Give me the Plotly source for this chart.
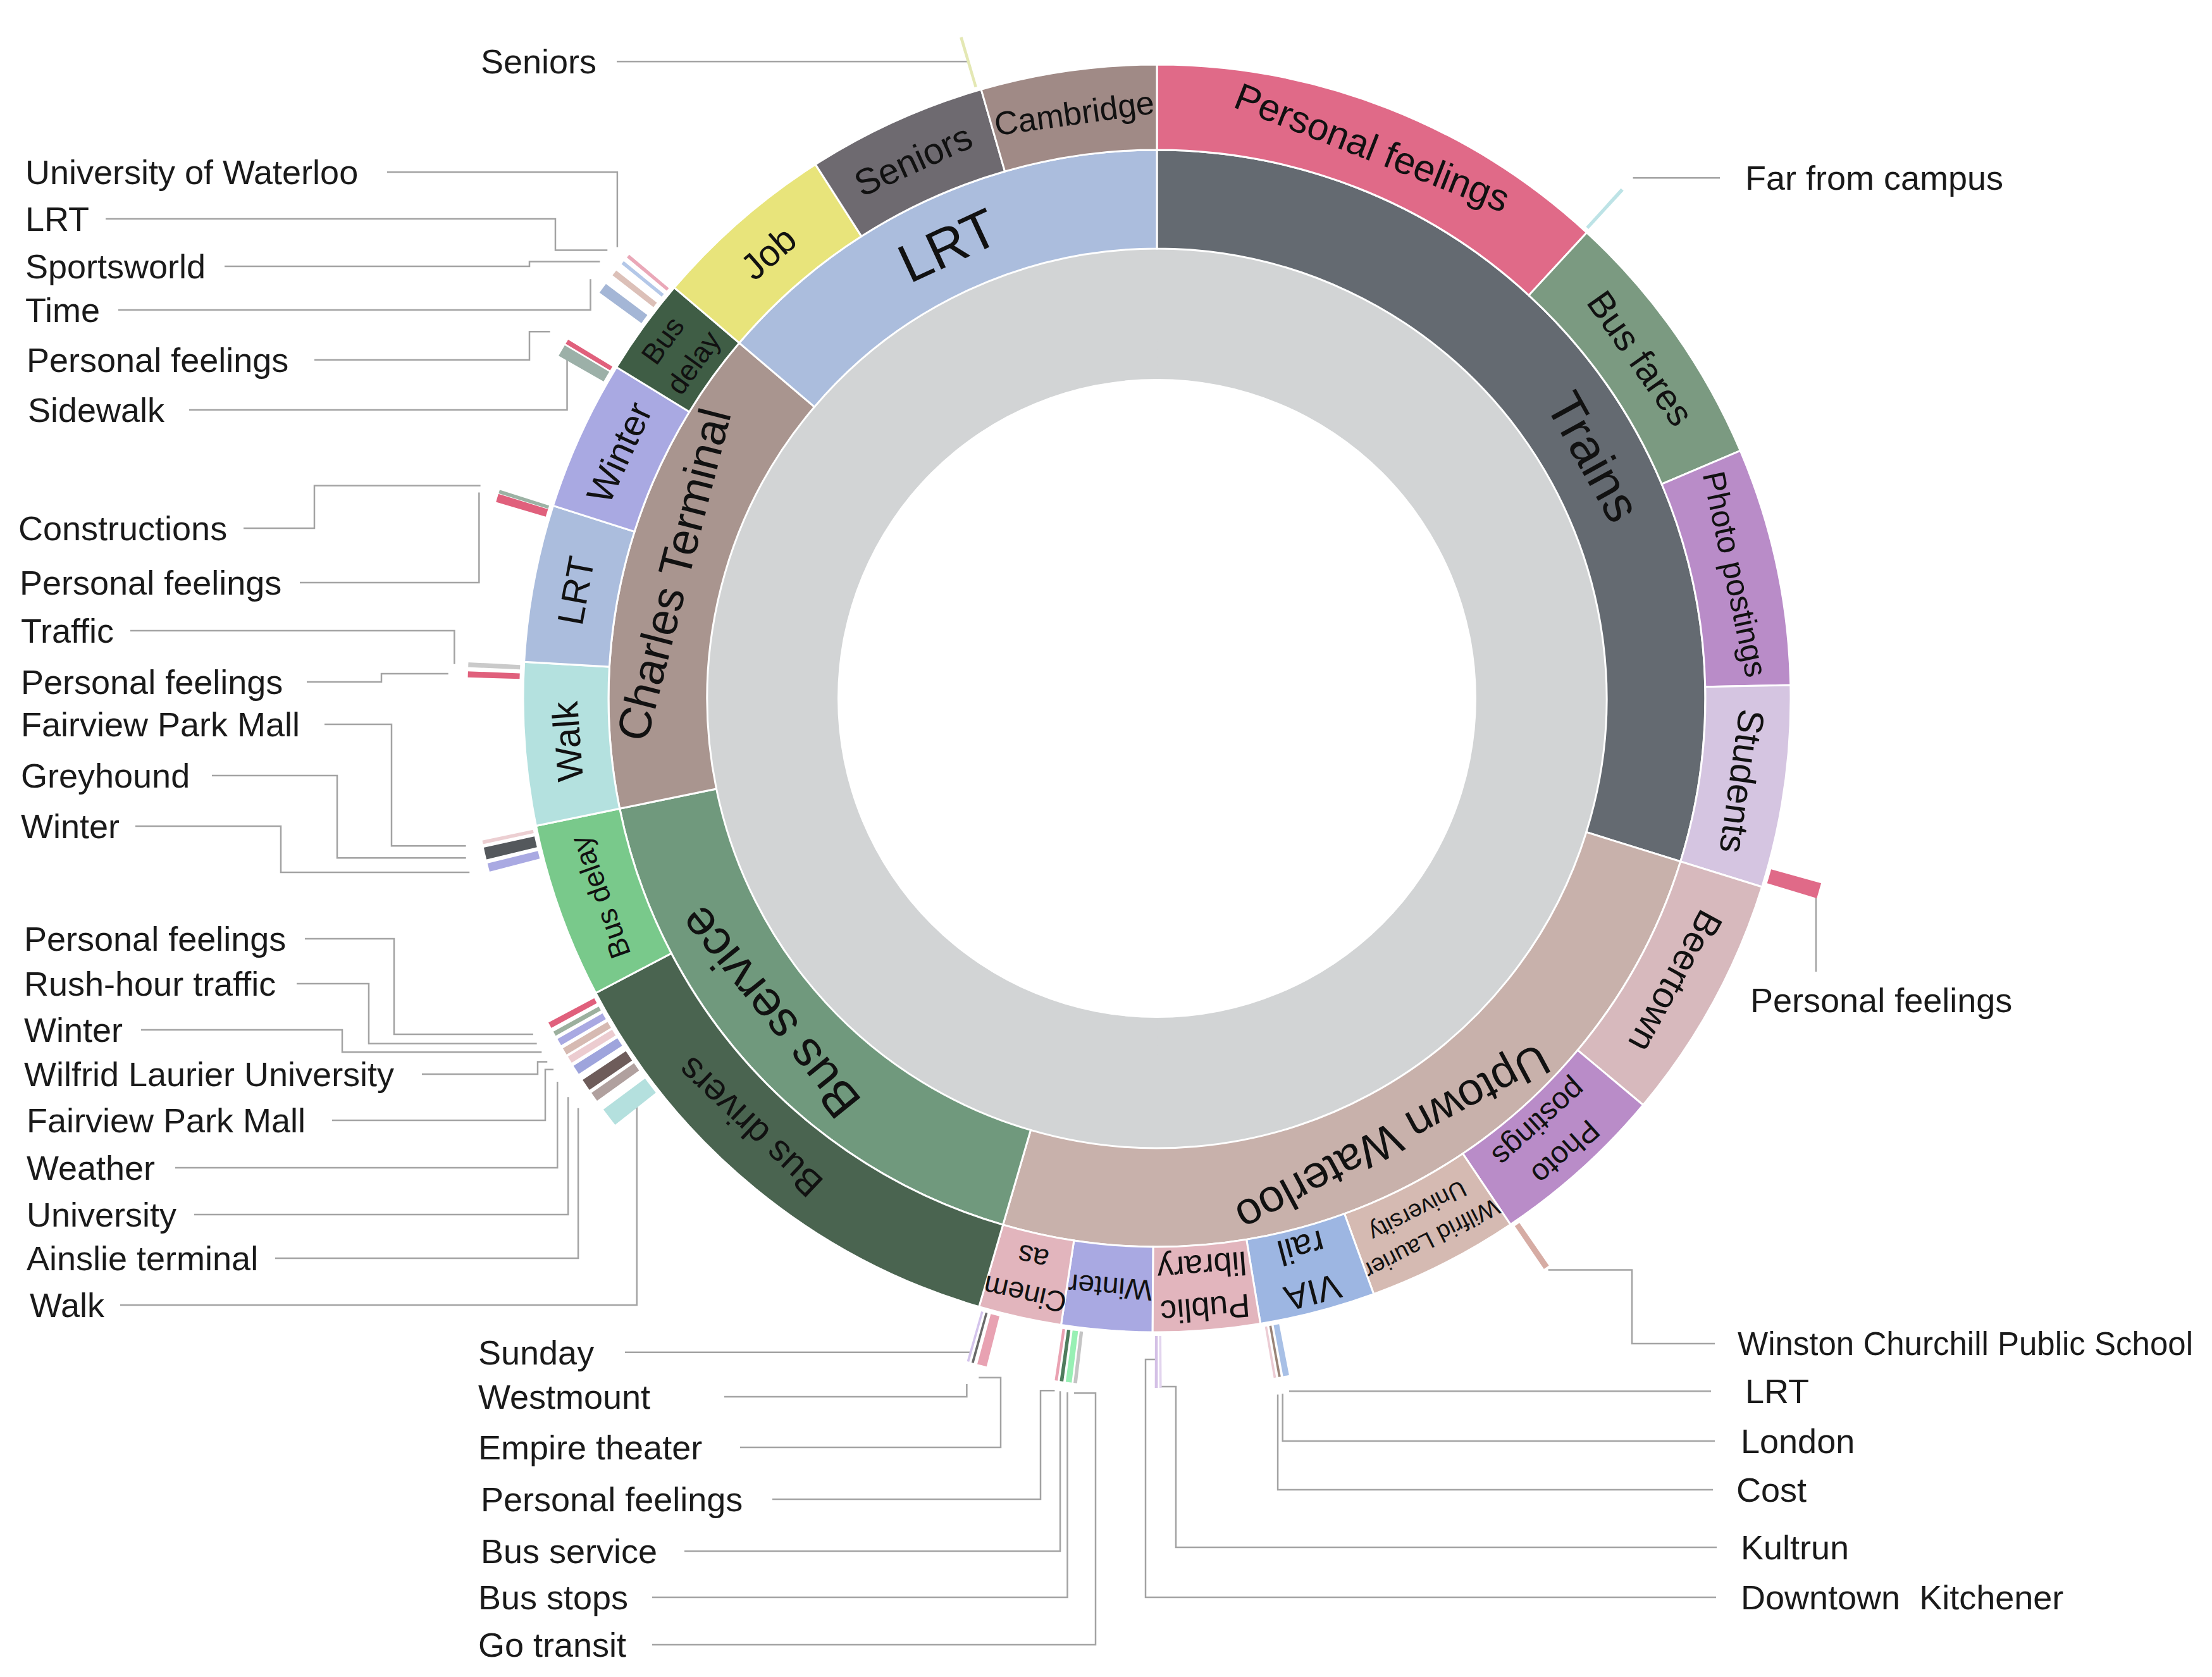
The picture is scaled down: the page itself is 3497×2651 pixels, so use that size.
import math
import plotly.graph_objects as go

# ---------------- data ----------------
# level 1 (middle ring)
l1_labels = ["Trains", "Uptown Waterloo", "Bus service", "Charles Terminal", "LRT"]
l1_colors = ["#646a71", "#c8b1ab", "#70997d", "#a9958f", "#abbddd"]

# level 2 (outer ring) : arc share in degrees
l2_parent = (["Trains"] * 4 + ["Uptown Waterloo"] * 7 + ["Bus service"] * 2
             + ["Charles Terminal"] * 4 + ["LRT"] * 3)
l2_labels = ["Personal feelings", "Bus fares", "Photo postings", "Students",
             "Beertown", "Photo postings", "Wilfrid Laurier University", "VIA rail",
             "Public library", "Winter", "Cinemas",
             "Bus drivers", "Bus delay",
             "Walk", "LRT", "Winter", "Bus delay",
             "Job", "Seniors", "Cambridge"]
l2_text = ["Personal feelings", "Bus fares", "Photo postings", "Students",
           "Beertown", "Photo<br>postings", "Wilfrid Laurier<br>University", "VIA<br>rail",
           "Public<br>library", "Winter", "Cinem<br>as",
           "Bus drivers", "Bus delay",
           "Walk", "LRT", "Winter", "Bus<br>delay",
           "Job", "Seniors", "Cambridge"]
l2_sizes = [42.7, 24.3, 21.8, 18.5,
            22.6, 16.2, 13.9, 10.6, 9.8, 8.3, 7.6,
            46.0, 16.1,
            14.9, 14.4, 13.8, 8.9,
            17.0, 16.5, 16.1]
l2_colors = ["#e06a88", "#7b9a81", "#b98cc8", "#d5c5e1",
             "#d7b9bd", "#b98cc8", "#d5bab2", "#9db6e2", "#e2b5bd", "#a9a9e2", "#e2b5bd",
             "#4a6450", "#79c98b",
             "#b4e1df", "#abbddd", "#a9a9e2", "#3f5d45",
             "#e8e47b", "#6e6a70", "#a08a86"]

# level 3 (thin outer slivers)
sl_labels = ["Far from campus", "Personal feelings", "Winston Churchill Public School",
             "LRT", "London", "Cost", "Kultrun", "Downtown  Kitchener",
             "Go transit", "Bus stops", "Bus service", "Personal feelings",
             "Empire theater", "Westmount", "Sunday",
             "Walk", "Ainslie terminal", "University", "Weather", "Fairview Park Mall",
             "Wilfrid Laurier University", "Winter", "Rush-hour traffic", "Personal feelings",
             "Winter", "Greyhound", "Fairview Park Mall",
             "Personal feelings", "Traffic",
             "Personal feelings", "Constructions",
             "Sidewalk", "Personal feelings",
             "Time", "Sportsworld", "LRT", "University of Waterloo",
             "Seniors"]
sl_angle = [42.45, 106.2, 145.6,
            169.2, 169.75, 170.15, 179.7, 180.05,
            186.8, 187.35, 187.95, 188.4,
            194.7, 195.5, 195.9,
            232.6, 234.7, 235.9, 237.4, 238.4,
            239.2, 240.1, 240.9, 241.7,
            255.8, 257.0, 257.95,
            272.0, 272.8,
            286.9, 287.45,
            300.3, 301.15,
            306.5, 308.1, 309.2, 309.9,
            343.5]
sl_width = [0.3, 1.3, 0.5,
            0.5, 0.2, 0.2, 0.2, 0.25,
            0.3, 0.5, 0.3, 0.25,
            0.8, 0.2, 0.2,
            1.6, 0.8, 1.0, 0.8, 0.6,
            0.6, 0.6, 0.4, 0.5,
            0.7, 1.0, 0.3,
            0.5, 0.4,
            0.7, 0.3,
            1.0, 0.4,
            0.9, 0.5, 0.3, 0.3,
            0.25]
sl_reach = [1118, 1130, 1122,
            1120, 1118, 1118, 1120, 1120,
            1115, 1115, 1118, 1115,
            1115, 1120, 1120,
            1150, 1125, 1125, 1125, 1122,
            1122, 1122, 1122, 1122,
            1120, 1120, 1118,
            1122, 1116,
            1122, 1122,
            1120, 1122,
            1121, 1120, 1120, 1118,
            1125]
sl_colors = ["#bde3e6", "#e06a88", "#d6aca4",
             "#a8c0e6", "#9a8478", "#ecccd4", "#e2d4ee", "#d4c0e6",
             "#c4c4c4", "#98f0b4", "#4f7c5c", "#eaa2b2",
             "#e8a2b2", "#6a6a6a", "#d4c4ec",
             "#b4e0de", "#b0a09e", "#6e5c5a", "#9ea4dc", "#ecccd0",
             "#d6bab2", "#a9a9e2", "#9cb09e", "#e0607c",
             "#a9a9e2", "#54585c", "#eccfd2",
             "#e0607c", "#cacaca",
             "#e0607c", "#9cb2a4",
             "#9cb0a8", "#e0607c",
             "#a4b6d6", "#dcc0b8", "#b4c8e8", "#eaa8b8",
             "#e4e8b4"]

# ---------------- layout constants (screen pixels) ----------------
W, H = 3497, 2651          # browser window
PAGE_M = 8                 # default body margin of the html page
FW, FH = W - 2 * PAGE_M, H - 2 * PAGE_M   # figure size
CX, CY = 1829, 1104
R_HOLE, R1, R2, R3 = 505, 711, 867, 1002
SL_BASE = 1008
RPX = 1090

# callout geometry per sliver: attach radius, elbow x, line y, line end x, label x, label y
callouts = [
    (1115, None, None, 2719, 2757, None),
    (1085, None, 1536, None, 2765, 1581),
    (1095, 2580, 2124, 2711, 2745, None),
    (1115, None, None, 2705, 2757, None),
    (1117, None, 2278, 2711, 2750, None),
    (1117, None, 2355, 2708, 2743, None),
    (1088, 1859, 2446, 2714, 2750, None),
    (1045, 1811, 2525, 2713, 2750, None),
    (1106, 1732, 2600, 1031, 754, None),
    (1106, None, 2525, 1031, 754, None),
    (1106, None, 2452, 1082, 758, None),
    (1106, 1645, 2370, 1221, 758, None),
    (1110, 1582, 2288, 1170, 754, None),
    (1125, None, 2208, 1145, 754, None),
    (1075, None, None, 988, 754, None),
    (1035, None, 2063, 190, 45, None),
    (1121, None, 1989, 435, 40, None),
    (1124, None, 1920, 307, 40, None),
    (1125, None, 1846, 277, 40, None),
    (1120, 862, 1771, 525, 40, None),
    (1122, 850, 1698, 667, 36, None),
    (1122, 541, 1628, 223, 36, None),
    (1122, 583, 1555, 469, 36, None),
    (1120, 623, 1484, 482, 36, None),
    (1121, 444, 1306, 214, 31, None),
    (1121, 533, 1226, 335, 31, None),
    (1117, 619, 1145, 513, 31, None),
    (1121, 603, 1078, 485, 31, None),
    (1112, None, 997, 206, 31, None),
    (1120, None, 921, 474, 29, None),
    (1121, 497, 835, 385, 27, None),
    (1080, None, 648, 299, 42, None),
    (1121, 837, 569, 497, 40, None),
    (1114, None, 490, 187, 38, None),
    (1119, 837, 421, 355, 38, None),
    (1121, 878, 346, 167, 38, None),
    (1112, None, 272, 612, 38, None),
    (1050, None, None, 975, 758, None),
]
callout_font = {2: 51}

l1_angle_override = {"Trains": 61.0, "Bus service": 231.0}
l1_font = {"Trains": 80, "LRT": 86, "Bus service": 78, "Uptown Waterloo": 72, "Charles Terminal": 72}
l2_angle_override = {11: 223.5}
l2_font = {0: 60, 2: 50, 5: 48, 6: 38, 7: 56, 8: 52, 9: 46, 10: 46, 12: 46, 16: 46, 19: 52}

FONT = "Arial, Liberation Sans, sans-serif"


def polar_xy(theta_deg, r):
    t = math.radians(theta_deg)
    return CX + r * math.sin(t), CY - r * math.cos(t)


def cum_centers(sizes):
    out, s = [], 0.0
    for v in sizes:
        out.append(s + v / 2.0)
        s += v
    return out


l1_sizes = [sum(s for p, s in zip(l2_parent, l2_sizes) if p == lab) for lab in l1_labels]
l1_theta = cum_centers(l1_sizes)
l2_theta = cum_centers(l2_sizes)

fig = go.Figure()

# root ring
fig.add_trace(go.Barpolar(theta=[90, 270], width=[180.2, 180.2], base=[R_HOLE, R_HOLE],
                          r=[R1 - R_HOLE, R1 - R_HOLE],
                          marker=dict(color="#d2d4d5", line=dict(width=0)),
                          hoverinfo="skip", showlegend=False))
# middle ring
fig.add_trace(go.Barpolar(theta=l1_theta, width=l1_sizes, base=[R1] * len(l1_sizes),
                          r=[R2 - R1] * len(l1_sizes),
                          marker=dict(color=l1_colors, line=dict(color="white", width=3)),
                          hoverinfo="skip", showlegend=False))
# outer ring
fig.add_trace(go.Barpolar(theta=l2_theta, width=l2_sizes, base=[R2] * len(l2_sizes),
                          r=[R3 - R2] * len(l2_sizes),
                          marker=dict(color=l2_colors, line=dict(color="white", width=3)),
                          hoverinfo="skip", showlegend=False))
# slivers
fig.add_trace(go.Barpolar(theta=sl_angle, width=sl_width, base=[SL_BASE] * len(sl_angle),
                          r=[v - SL_BASE for v in sl_reach],
                          marker=dict(color=sl_colors, line=dict(width=0)),
                          hoverinfo="skip", showlegend=False))
# disables polar clipping so slivers can extend past the radial range
fig.add_trace(go.Scatterpolar(r=[0], theta=[0], mode="markers", marker=dict(opacity=0),
                              cliponaxis=False, hoverinfo="skip", showlegend=False))

# leader lines
lx, ly = [], []
annotations = []
for i, lab in enumerate(sl_labels):
    r_att, ex, liney, lend, tx, ty = callouts[i]
    x0, y0 = polar_xy(sl_angle[i], r_att)
    yline = liney if liney is not None else y0
    pts = [(x0, y0)]
    if ex is not None:
        pts += [(ex, y0), (ex, yline)]
    else:
        pts += [(x0, yline)]
    if lend is not None:
        pts += [(lend, yline)]
    for px, py in pts:
        lx.append(px)
        ly.append(py)
    lx.append(None)
    ly.append(None)
    annotations.append(dict(x=tx, y=ty if ty is not None else yline, xref="x", yref="y",
                            text=lab, showarrow=False, xanchor="left", yanchor="middle",
                            font=dict(size=callout_font.get(i, 54), color="#1a1a1a", family=FONT)))

fig.add_trace(go.Scatter(x=lx, y=ly, mode="lines", line=dict(color="#a3a3a3", width=2.5),
                         hoverinfo="skip", showlegend=False))


def tangential_angle(th):
    return th if th <= 180 else th - 360


for lab, th in zip(l1_labels, l1_theta):
    th = l1_angle_override.get(lab, th)
    x, y = polar_xy(th, (R1 + R2) / 2)
    annotations.append(dict(x=x, y=y, xref="x", yref="y", text=lab, showarrow=False,
                            textangle=tangential_angle(th), xanchor="center", yanchor="middle",
                            font=dict(size=l1_font.get(lab, 74), color="#111111", family=FONT)))

for i, (txt, th) in enumerate(zip(l2_text, l2_theta)):
    th = l2_angle_override.get(i, th)
    x, y = polar_xy(th, (R2 + R3) / 2)
    annotations.append(dict(x=x, y=y, xref="x", yref="y", text=txt, showarrow=False,
                            textangle=tangential_angle(th), xanchor="center", yanchor="middle",
                            font=dict(size=l2_font.get(i, 58), color="#111111", family=FONT)))

# polar domain, in figure fractions, from the screen-pixel centre
fcx, fcy = CX - PAGE_M, CY - PAGE_M
fig.update_layout(
    width=FW, height=FH, autosize=False,
    margin=dict(l=0, r=0, t=0, b=0, pad=0),
    paper_bgcolor="white", plot_bgcolor="rgba(0,0,0,0)",
    font=dict(family=FONT),
    showlegend=False,
    polar=dict(
        domain=dict(x=[(fcx - RPX) / FW, (fcx + RPX) / FW],
                    y=[(FH - fcy - RPX) / FH, (FH - fcy + RPX) / FH]),
        bgcolor="rgba(0,0,0,0)",
        radialaxis=dict(visible=False, range=[0, RPX], showgrid=False),
        angularaxis=dict(visible=False, rotation=90, direction="clockwise",
                         showgrid=False, showline=False),
    ),
    xaxis=dict(range=[PAGE_M, W - PAGE_M], visible=False, domain=[0, 1], fixedrange=True),
    yaxis=dict(range=[H - PAGE_M, PAGE_M], visible=False, domain=[0, 1], fixedrange=True),
    annotations=annotations,
)

fig.write_html("out.html")
